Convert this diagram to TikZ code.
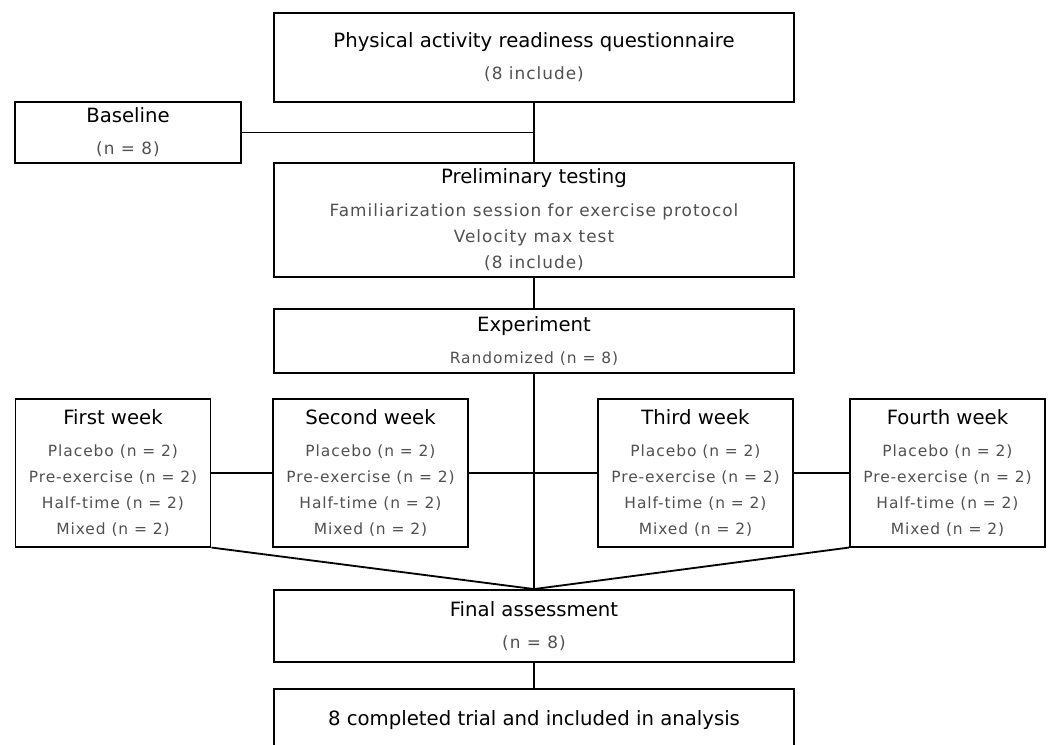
\documentclass[tikz,border=0pt]{standalone}
\usepackage{fontspec}
\setmainfont{DejaVu Sans}
\newfontfamily\subfont{DejaVu Sans}[LetterSpace=6]
\usepackage{xcolor}
\definecolor{subgray}{HTML}{505050}
\newcommand{\hd}{\normalfont\fontsize{14}{18.5}\selectfont\color{black}}
\tikzset{
    block/.style = { rectangle, draw=black, line width=1.3pt, align=center,
	inner sep=2pt, text=subgray, font=\subfont\fontsize{12}{18.5}\selectfont },
	wide/.style  = { block, minimum width=13cm },
	week/.style  = { block, minimum width=4.875cm, minimum height=3.69cm,
	font=\subfont\fontsize{11}{18.5}\selectfont },
	line/.style  = { draw, line width=1.3pt },
}

\begin{document}
\begin{tikzpicture}[x=0.025cm, y=-0.025cm]
	\useasboundingbox (0,0) rectangle (1053,744);
	\clip (0,0) rectangle (1053,744);
	\node (p1) [wide, minimum height=2.225cm] at (534,57.2) {{\hd Physical activity readiness questionnaire}\\[4.3pt] (8 include)};
	\node (p2) [block, minimum width=5.65cm, minimum height=1.54cm] at (128,132.5) {{\hd Baseline}\\[4.3pt] (n = 8)};
	\node (p3) [wide, minimum height=2.85cm] at (534,219.7) {{\hd Preliminary testing}\\[5pt] Familiarization session for exercise protocol\\ Velocity max test\\ (8 include)};
	\node (p4) [wide, minimum height=1.615cm, font=\subfont\fontsize{11}{18.5}\selectfont] at (534,341) {{\hd Experiment}\\[4.3pt] Randomized (n = 8)};
	\node (w1) [week] at (113,472.8) {{\hd First week}\\[4.3pt] Placebo (n = 2)\\ Pre-exercise (n = 2)\\ Half-time (n = 2)\\ Mixed (n = 2)};
	\node (w2) [week] at (370.5,472.8) {{\hd Second week}\\[4.3pt] Placebo (n = 2)\\ Pre-exercise (n = 2)\\ Half-time (n = 2)\\ Mixed (n = 2)};
	\node (w3) [week] at (695.5,472.8) {{\hd Third week}\\[4.3pt] Placebo (n = 2)\\ Pre-exercise (n = 2)\\ Half-time (n = 2)\\ Mixed (n = 2)};
	\node (w4) [week] at (947.5,472.8) {{\hd Fourth week}\\[4.3pt] Placebo (n = 2)\\ Pre-exercise (n = 2)\\ Half-time (n = 2)\\ Mixed (n = 2)};
	\node (p5) [wide, minimum height=1.79cm] at (534,625.8) {{\hd Final assessment}\\[4.3pt] (n = 8)};
	\node (p6) [wide, minimum height=1.54cm] at (534,720) {\hd 8 completed trial and included in analysis};
	\path[line] (p1) -- (p3);
	\path[line] (p2) -- (p2 -| p1);
	\path[line] (p3) -- (p4);
	\path[line] (p4) -- (p5);
	\path[line] (w1) -- (w2);
	\path[line] (w2) -- (w3);
	\path[line] (w3) -- (w4);
	\path[line] (w1.south east) -- (p5.north);
	\path[line] (w4.south west) -- (p5.north);
	\path[line] (p5) -- (p6);
\end{tikzpicture}
\end{document}
